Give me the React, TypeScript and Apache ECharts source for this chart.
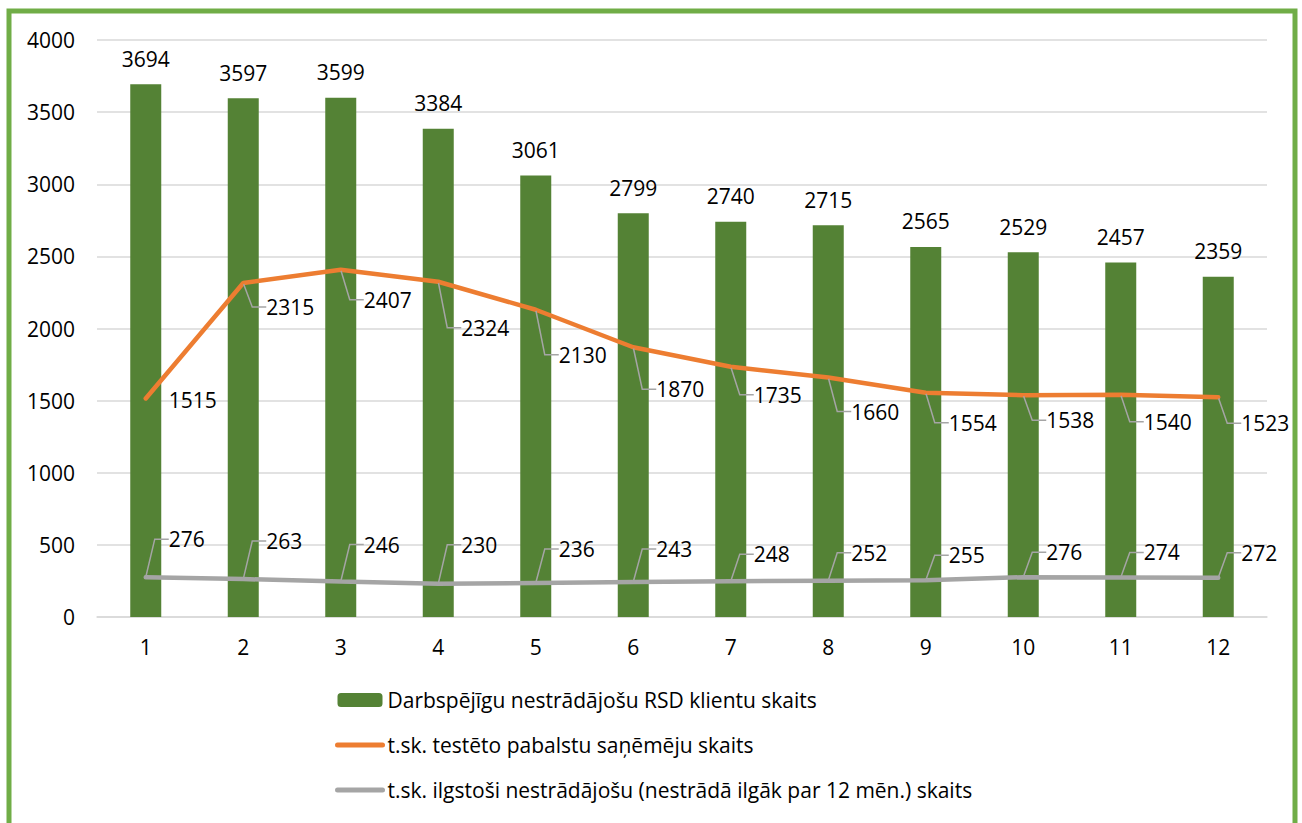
import React, { useEffect, useRef } from "react";
import * as echarts from "echarts";

const categories = ["1", "2", "3", "4", "5", "6", "7", "8", "9", "10", "11", "12"];
const barName = "Darbspējīgu nestrādājošu RSD klientu skaits";
const orangeName = "t.sk. testēto pabalstu saņēmēju skaits";
const grayName = "t.sk. ilgstoši nestrādājošu (nestrādā ilgāk par 12 mēn.) skaits";
const barValues = [3694, 3597, 3599, 3384, 3061, 2799, 2740, 2715, 2565, 2529, 2457, 2359];
const orangeValues = [1515, 2315, 2407, 2324, 2130, 1870, 1735, 1660, 1554, 1538, 1540, 1523];
const grayValues = [276, 263, 246, 230, 236, 243, 248, 252, 255, 276, 274, 272];

// label vertical offsets (styling)
const orangeLabelDy = [2, 24, 30, 46, 45, 42, 28, 34, 30, 25, 27, 26];
const grayLabelDy = [-38, -38, -37, -39, -34, -33, -27, -28, -25, -25, -25, -25];

const FONT = "'Open Sans', 'Noto Sans', sans-serif";
const FS = 21;

export default function App() {
  const ref = useRef<HTMLDivElement>(null);
  useEffect(() => {
    if (!ref.current) return;
    const chart = echarts.init(ref.current, undefined, { renderer: "svg" });
    const orangeData = orangeValues.map((v, i) =>
      i === 0 ? { value: v, labelLine: { show: false } } : { value: v }
    );
    const labelLine = {
      show: true,
      length2: 14,
      lineStyle: { color: "#A5A5A5", width: 1.5 },
    };
    const lineLabel = {
      show: true,
      position: "right",
      distance: 16,
      padding: [0, 0, 0, 6],
      fontSize: FS,
      color: "#000",
      fontFamily: FONT,
    };
    chart.setOption({
      animation: false,
      backgroundColor: "#ffffff",
      textStyle: { fontFamily: FONT },
      graphic: [
        {
          type: "rect",
          shape: { x: 9, y: 11, width: 1286, height: 830 },
          style: { fill: "none", stroke: "#70AD47", lineWidth: 5 },
          silent: true,
        },
      ],
      grid: { left: 97, right: 35, top: 40, bottom: 206 },
      legend: {
        orient: "vertical",
        left: 335,
        top: 688,
        padding: 0,
        itemWidth: 45,
        itemHeight: 14,
        itemGap: 21,
        textStyle: { fontSize: FS, color: "#000", fontFamily: FONT, lineHeight: 24 },
        lineStyle: { width: 5, cap: "round" },
        data: [
          { name: barName },
          { name: orangeName, itemStyle: { opacity: 0 } },
          { name: grayName, itemStyle: { opacity: 0 } },
        ],
      },
      xAxis: {
        type: "category",
        data: categories,
        axisTick: { show: false },
        axisLine: { lineStyle: { color: "#D9D9D9", width: 1.5 } },
        axisLabel: { fontSize: FS, color: "#000", margin: 19, fontFamily: FONT },
      },
      yAxis: {
        type: "value",
        min: 0,
        max: 4000,
        interval: 500,
        axisLabel: {
          fontSize: FS,
          color: "#000",
          margin: 22,
          fontFamily: FONT,
          formatter: (v: number) => String(v),
        },
        splitLine: { lineStyle: { color: "#D9D9D9", width: 1.5 } },
      },
      series: [
        {
          name: barName,
          type: "bar",
          data: barValues,
          barWidth: 31,
          itemStyle: { color: "#548235" },
          label: {
            show: true,
            position: "top",
            distance: 15,
            fontSize: FS,
            color: "#000",
            fontFamily: FONT,
          },
        },
        {
          name: orangeName,
          type: "line",
          data: orangeData,
          symbol: "circle",
          symbolSize: 2,
          itemStyle: { color: "#ED7D31" },
          lineStyle: { color: "#ED7D31", width: 4.5, cap: "round" },
          label: lineLabel,
          labelLine,
          labelLayout: (p: any) => ({ dy: orangeLabelDy[p.dataIndex] }),
          z: 3,
        },
        {
          name: grayName,
          type: "line",
          data: grayValues,
          symbol: "circle",
          symbolSize: 2,
          itemStyle: { color: "#A5A5A5" },
          lineStyle: { color: "#A5A5A5", width: 4.5, cap: "round" },
          label: lineLabel,
          labelLine,
          labelLayout: (p: any) => ({ dy: grayLabelDy[p.dataIndex] }),
          z: 3,
        },
      ],
    });
    return () => chart.dispose();
  }, []);
  return (
    <div
      ref={ref}
      style={{ position: "absolute", left: 0, top: 0, width: 1302, height: 823 }}
    />
  );
}
